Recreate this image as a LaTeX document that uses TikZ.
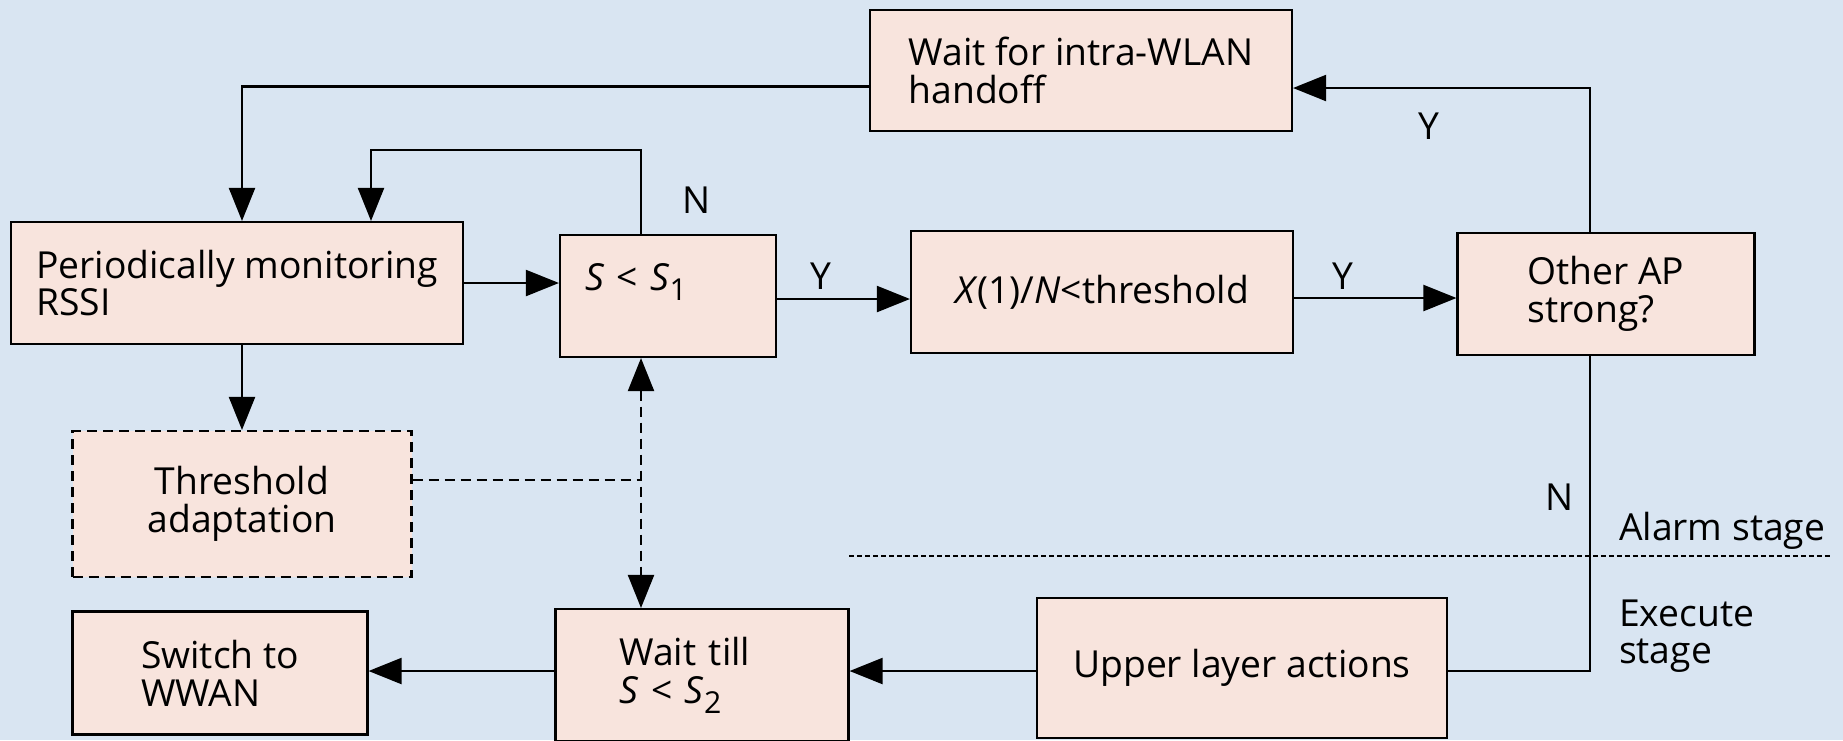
\documentclass[tikz,border=0pt]{standalone}
\usepackage{fontspec}
\setmainfont{Open Sans}
\usetikzlibrary{positioning,arrows.meta}
\definecolor{bgblue}{RGB}{217,229,242}
\definecolor{boxpink}{RGB}{248,228,221}
\newcommand{\lowsub}[1]{\raisebox{-1mm}{\fontsize{8.6}{9}\selectfont #1}}
\tikzset{%
	block/.style={%
		rectangle,
		draw,
		fill=boxpink,
		inner sep=0pt,
		align=left,
		font=\fontsize{10.6}{10.8}\selectfont
	},
	dblock/.style={block, dash pattern=on 1mm off 0.6mm},
	tag/.style={font=\fontsize{10.6}{10.8}\selectfont, inner sep=0pt}
}

\begin{document}
\begin{tikzpicture}[x=0.1mm, y=-0.1mm, line width=0.6pt, >={Triangle[length=3.3mm,width=2.6mm]}]
	\fill[bgblue] (0,0) rectangle (1843,740);
	\useasboundingbox (0,0) rectangle (1843,740);
	% alarm stage
	\node[block, minimum width=42.2mm, minimum height=12.1mm] (wait) at (1081,70.5) {Wait for intra-WLAN\\handoff};
	\node[block, minimum width=45.2mm, minimum height=12.2mm] (mon) at (237,283) {Periodically monitoring\\RSSI};
	\node[block, minimum width=21.6mm, minimum height=12.2mm, text width=16.6mm] (s1) at (668,296) {\textit{S} < \textit{S}\lowsub{1}\\\mbox{}};
	\node[block, minimum width=38.2mm, minimum height=12.2mm] (xth) at (1102,292) {\textit{X}(1)/\textit{N}<threshold};
	\node[block, minimum width=29.7mm, minimum height=12.2mm] (other) at (1606,294) {Other AP\\strong?};
	\node[dblock, minimum width=33.9mm, minimum height=14.6mm, align=center] (thr) at (242,504) {Threshold\\adaptation};
	% execute stage
	\node[block, minimum width=29.5mm, minimum height=12.3mm] (sw) at (220,673) {Switch to\\WWAN};
	\node[block, minimum width=29.3mm, minimum height=13.2mm, text width=16.5mm] (till) at (702,675) {Wait till\\\textit{S} < \textit{S}\lowsub{2}};
	\node[block, minimum width=41mm, minimum height=14mm] (up) at (1242,668) {Upper layer actions};
	\coordinate (loop) at (371,150);
	\coordinate (dv) at ([xshift=-2.7mm]s1.south);
	\coordinate (sepl) at (849,556);
	\coordinate (sepr) at (1830,556);
	% connectors
	\draw[->] ([yshift=-1.6mm]wait.west) -| ([xshift=0.5mm]mon.north);
	\draw[->] ([xshift=-2.7mm]s1.north) |- (loop) -- (loop |- mon.north);
	\draw[->] (mon.east) -- (mon.east -| s1.west);
	\draw[->] ([yshift=-0.3mm]s1.east) -- ([yshift=-0.3mm]s1.east -| xth.west);
	\draw[->] ([yshift=-0.6mm]xth.east) -- ([yshift=-0.6mm]xth.east -| other.west);
	\draw[->] ([xshift=-1.6mm]other.north) |- ([yshift=-1.75mm]wait.east);
	\draw ([xshift=-1.6mm]other.south) |- ([yshift=-0.3mm]up.east);
	\draw[->] ([yshift=-0.3mm]up.west) -- ([yshift=-0.3mm]up.west -| till.east);
	\draw[->] ([yshift=0.4mm]till.west) -- ([yshift=0.4mm]till.west -| sw.east);
	\draw[->] (thr.north |- mon.south) -- (thr.north);
	\draw[<->, dash pattern=on 1mm off 0.6mm] (dv) -- (dv |- till.north);
	\draw[dash pattern=on 1mm off 0.6mm] ([yshift=2.4mm]thr.east) -- ([yshift=2.4mm]thr.east -| dv);
	\draw[line width=0.4pt, dash pattern=on 0.5mm off 0.3mm] (sepl) -- (sepr);
	% labels
	\node[tag] (n1) at (697,200) {N};
	\node[tag] (y1) at (821,276) {Y};
	\node[tag] (y2) at (1343,276) {Y};
	\node[tag] (y3) at (1429,126) {Y};
	\node[tag] (n2) at (1560,497) {N};
	\node[tag, anchor=base west] (alarm) at (1618,540) {Alarm stage};
	\node[tag, anchor=base west, align=left, text width=20mm] (exec) at (1618,626) {Execute\\stage};
\end{tikzpicture}
\end{document}
